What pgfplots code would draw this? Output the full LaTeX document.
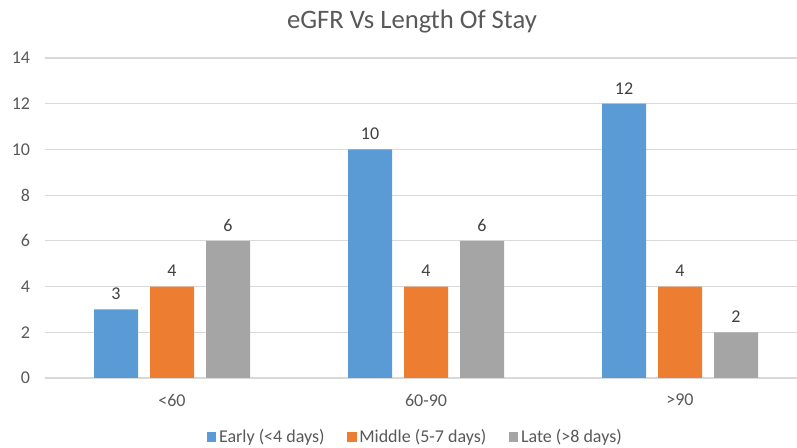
\documentclass[border=0pt]{standalone}
\usepackage{pgfplots}
\pgfplotsset{compat=1.18}
\usepackage{fontspec}
\setmainfont{Carlito}
\definecolor{cblue}{HTML}{5B9BD5}
\definecolor{corange}{HTML}{ED7D31}
\definecolor{cgray}{HTML}{A5A5A5}
\definecolor{gridc}{HTML}{D9D9D9}
\definecolor{txt}{HTML}{595959}
\definecolor{lbl}{HTML}{404040}
\begin{document}
\begin{tikzpicture}[x=0.75pt,y=0.75pt]
\begin{axis}[
  at={(33.75pt,52.5pt)}, anchor=south west,
  scale only axis, width=564pt, height=240pt,
  ymin=0, ymax=14, ytick={0,2,...,14},
  xmin=-0.5, xmax=2.4606,
  xtick={0,1,2}, xticklabels={{<60},{60-90},{>90}},
  ybar, bar width=33pt,
  axis x line*=bottom, axis y line*=left,
  y axis line style={draw=none},
  x axis line style={draw=gridc, line width=0.8pt},
  major tick length=0pt,
  ymajorgrids, grid style={draw=gridc, line width=0.8pt},
  /pgf/number format/assume math mode=true,
  tick label style={font=\fontsize{13.5}{16}\selectfont, text=txt},
  yticklabel style={anchor=east, inner sep=0pt, xshift=-11pt},
  xticklabel style={anchor=north, inner sep=0pt, yshift=-12pt},
  nodes near coords,
  nodes near coords style={font=\fontsize{13.5}{16}\selectfont, text=lbl, anchor=south, inner sep=0pt, yshift=7pt},
  clip=false,
  legend style={draw=none, at={(0.493,-0.184)}, anchor=center, legend columns=3,
     font=\fontsize{13.5}{16}\selectfont, text=txt,
     /tikz/every even column/.append style={column sep=15pt}},
  legend image code/.code={\fill[#1] (0pt,-3.5pt) rectangle (7pt,3.5pt);},
]
\addplot[fill=cblue, draw=none, bar shift=-42pt] coordinates {(0,3) (1,10) (2,12)};
\addplot[fill=corange, draw=none, bar shift=0pt] coordinates {(0,4) (1,4) (2,4)};
\addplot[fill=cgray, draw=none, bar shift=42pt] coordinates {(0,6) (1,6) (2,2)};
\legend{Early (<4 days), Middle (5-7 days), Late (>8 days)}
\end{axis}
\node[font=\fontsize{20}{24}\selectfont, text=txt] at (412pt*0.75,336pt-22pt*0.75) {eGFR Vs Length Of Stay};
\pgfresetboundingbox
\path[use as bounding box] (0,0) rectangle (597.75pt,336pt);
\end{tikzpicture}
\end{document}
